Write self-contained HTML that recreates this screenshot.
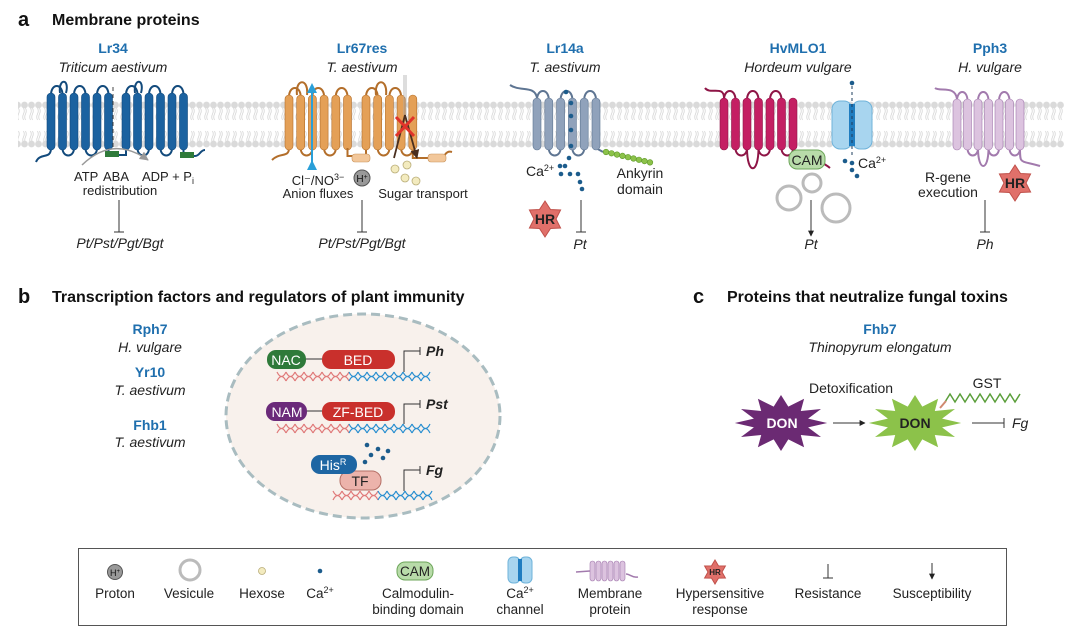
<!DOCTYPE html>
<html><head><meta charset="utf-8"><style>
html,body{margin:0;padding:0;background:#fff}
svg{display:block;font-family:"Liberation Sans","DejaVu Sans",sans-serif}
.t{font-size:14px;fill:#222}
.b{font-weight:bold}
.bl{fill:#1f6fae;font-weight:bold;font-size:14px}
.it{font-style:italic;font-size:14px;fill:#222}
.h{font-size:16px;font-weight:bold;fill:#111}
.lg{font-size:13.5px;fill:#222}
</style></head><body>
<svg id="s" width="1080" height="636" viewBox="0 0 1080 636" xmlns="http://www.w3.org/2000/svg">
<defs>
<pattern id="mem" x="0" y="101" width="7" height="60" patternUnits="userSpaceOnUse">
<path d="M2.5 107 q1.5 3 0 6 q-1.5 3 0 6 M4.5 107 q1.5 3 0 6 q-1.5 3 0 6 M2.5 130 q1.5 3 0 6 q-1.5 3 0 6 M4.5 130 q1.5 3 0 6 q-1.5 3 0 6" stroke="#d4d4d4" stroke-width="0.8" fill="none" transform="translate(0,-100)"/>
<circle cx="3.5" cy="4" r="3.4" fill="#dadada"/>
<circle cx="3.5" cy="43" r="3.4" fill="#dadada"/>
</pattern>
<marker id="ar" viewBox="0 0 10 10" refX="9" refY="5" markerWidth="6" markerHeight="6" orient="auto"><path d="M0 0L10 5L0 10z" fill="#222"/></marker>
<marker id="arg" viewBox="0 0 10 10" refX="9" refY="5" markerWidth="6" markerHeight="6" orient="auto"><path d="M0 0L10 5L0 10z" fill="#999"/></marker>
<marker id="arb" viewBox="0 0 10 10" refX="5" refY="5" markerWidth="5" markerHeight="5" orient="auto"><path d="M0 0L10 5L0 10z" fill="#2a9fd8"/></marker>
<marker id="ard" viewBox="0 0 10 10" refX="9" refY="5" markerWidth="5" markerHeight="5" orient="auto"><path d="M0 0L10 5L0 10z" fill="#4a2f1f"/></marker>
</defs>

<rect x="18" y="101" width="1046" height="47" fill="url(#mem)"/>

<g id="prot"></g>

<text x="18" y="26" class="h" style="font-size:20px">a</text>
<text x="52" y="25" class="h">Membrane proteins</text>
<text x="113" y="53" class="bl" text-anchor="middle">Lr34</text>
<text x="113" y="72" class="it" text-anchor="middle">Triticum aestivum</text>
<text x="362" y="53" class="bl" text-anchor="middle">Lr67res</text>
<text x="362" y="72" class="it" text-anchor="middle">T. aestivum</text>
<text x="565" y="53" class="bl" text-anchor="middle">Lr14a</text>
<text x="565" y="72" class="it" text-anchor="middle">T. aestivum</text>
<text x="798" y="53" class="bl" text-anchor="middle">HvMLO1</text>
<text x="798" y="72" class="it" text-anchor="middle">Hordeum vulgare</text>
<text x="990" y="53" class="bl" text-anchor="middle">Pph3</text>
<text x="990" y="72" class="it" text-anchor="middle">H. vulgare</text>

<line x1="113" y1="87" x2="113" y2="150" stroke="#444" stroke-dasharray="4,3"/>
<path d="M82 165 Q113 135 148 160" stroke="#999" stroke-width="1.5" fill="none" marker-end="url(#arg)"/>
<text x="74" y="181" class="t" style="font-size:13px">ATP</text>
<text x="103" y="181" class="t" style="font-size:13px">ABA</text>
<text x="142" y="181" class="t" style="font-size:13px">ADP + P<tspan font-size="9" dy="3">i</tspan></text>
<text x="120" y="195" class="t" text-anchor="middle" style="font-size:13px">redistribution</text>
<line x1="119" y1="200" x2="119" y2="232" stroke="#333"/><line x1="114" y1="232" x2="124" y2="232" stroke="#333"/>
<text x="120" y="248" class="it" text-anchor="middle">Pt/Pst/Pgt/Bgt</text>

<line x1="312" y1="165" x2="312" y2="88" stroke="#2a9fd8" stroke-width="2" marker-end="url(#arb)" marker-start="url(#arb)"/>
<line x1="404" y1="75" x2="404" y2="115" stroke="#aaa" stroke-width="0.8"/><line x1="406" y1="75" x2="406" y2="115" stroke="#aaa" stroke-width="0.8"/>
<path d="M405 115 L394 158 M405 115 L417 158" stroke="#4a2f1f" stroke-width="1.8" fill="none" marker-end="url(#ard)"/>
<path d="M396 117 L414 136 M414 117 L396 136" stroke="#e0332b" stroke-width="3"/>
<circle cx="362" cy="178" r="8" fill="#999" stroke="#555"/><text x="362" y="182" font-size="10" text-anchor="middle" fill="#111">H<tspan font-size="7" dy="-3">+</tspan></text>
<g fill="#f3ebbf" stroke="#b9ad79" stroke-width="0.8"><circle cx="395" cy="169" r="4"/><circle cx="407" cy="165" r="4"/><circle cx="405" cy="178" r="4"/><circle cx="416" cy="181" r="4"/></g>
<text x="318" y="185" class="t" text-anchor="middle" style="font-size:13px">Cl⁻/NO<tspan font-size="9" dy="-5">3−</tspan></text>
<text x="318" y="198" class="t" text-anchor="middle" style="font-size:13px">Anion fluxes</text>
<text x="423" y="198" class="t" text-anchor="middle" style="font-size:13px">Sugar transport</text>
<line x1="362" y1="200" x2="362" y2="232" stroke="#333"/><line x1="357" y1="232" x2="367" y2="232" stroke="#333"/>
<text x="362" y="248" class="it" text-anchor="middle">Pt/Pst/Pgt/Bgt</text>

<text x="526" y="176" class="t">Ca<tspan font-size="9" dy="-5">2+</tspan></text>
<g fill="#1c5c8c"><circle cx="566" cy="92" r="2.3"/><circle cx="571" cy="103" r="2.3"/><circle cx="571" cy="116" r="2.3"/><circle cx="571" cy="130" r="2.3"/><circle cx="571" cy="146" r="2.3"/><circle cx="569" cy="158" r="2.3"/><circle cx="565" cy="166" r="2.3"/><circle cx="560" cy="166" r="2.3"/><circle cx="561" cy="174" r="2.3"/><circle cx="570" cy="174" r="2.3"/><circle cx="578" cy="174" r="2.3"/><circle cx="580" cy="182" r="2.3"/><circle cx="582" cy="189" r="2.3"/></g>
<text x="640" y="178" class="t" text-anchor="middle">Ankyrin</text>
<text x="640" y="194" class="t" text-anchor="middle">domain</text>
<line x1="581" y1="200" x2="581" y2="232" stroke="#333"/><line x1="576" y1="232" x2="586" y2="232" stroke="#333"/>
<text x="580" y="249" class="it" text-anchor="middle">Pt</text>

<rect x="789" y="150" width="36" height="19" rx="8" fill="#b8dba9" stroke="#6da65a"/>
<text x="807" y="165" class="t" text-anchor="middle">CAM</text>
<g fill="none" stroke="#bbb" stroke-width="3"><circle cx="812" cy="183" r="9"/><circle cx="789" cy="198" r="12"/><circle cx="836" cy="208" r="14"/></g>
<line x1="811" y1="200" x2="811" y2="236" stroke="#333" marker-end="url(#ar)"/>
<text x="811" y="249" class="it" text-anchor="middle">Pt</text>
<rect x="832" y="101" width="20" height="48" rx="8" fill="#a8d5ef" stroke="#6fb3da"/>
<rect x="852" y="101" width="20" height="48" rx="8" fill="#a8d5ef" stroke="#6fb3da"/>
<rect x="849" y="104" width="6" height="42" fill="#1f7dc0"/>
<line x1="852" y1="86" x2="852" y2="158" stroke="#1c3c5c" stroke-dasharray="3,3"/>
<g fill="#1c5c8c"><circle cx="852" cy="83" r="2.3"/><circle cx="845" cy="161" r="2.3"/><circle cx="852" cy="163" r="2.3"/><circle cx="852" cy="170" r="2.3"/><circle cx="857" cy="176" r="2.3"/></g>
<text x="858" y="168" class="t">Ca<tspan font-size="9" dy="-5">2+</tspan></text>

<text x="948" y="182" class="t" text-anchor="middle">R-gene</text>
<text x="948" y="197" class="t" text-anchor="middle">execution</text>
<line x1="985" y1="200" x2="985" y2="232" stroke="#333"/><line x1="980" y1="232" x2="990" y2="232" stroke="#333"/>
<text x="985" y="249" class="it" text-anchor="middle">Ph</text>

<text x="18" y="303" class="h" style="font-size:20px">b</text>
<text x="52" y="302" class="h">Transcription factors and regulators of plant immunity</text>
<text x="150" y="334" class="bl" text-anchor="middle">Rph7</text>
<text x="150" y="352" class="it" text-anchor="middle">H. vulgare</text>
<text x="150" y="377" class="bl" text-anchor="middle">Yr10</text>
<text x="150" y="395" class="it" text-anchor="middle">T. aestivum</text>
<text x="150" y="430" class="bl" text-anchor="middle">Fhb1</text>
<text x="150" y="447" class="it" text-anchor="middle">T. aestivum</text>
<ellipse cx="363" cy="416" rx="137" ry="102" fill="#f8f1ec" stroke="#a9bcc0" stroke-width="3" stroke-dasharray="9,5"/>
<g id="dna"></g>
<line x1="305" y1="359" x2="323" y2="359" stroke="#333"/>
<rect x="267" y="350" width="39" height="19" rx="9" fill="#2f7a3a"/>
<text x="286" y="365" class="t" style="fill:#fff" text-anchor="middle">NAC</text>
<rect x="322" y="350" width="73" height="19" rx="9" fill="#c9302c"/>
<text x="358" y="365" class="t" style="fill:#fff" text-anchor="middle">BED</text>
<line x1="306" y1="411" x2="323" y2="411" stroke="#333"/>
<rect x="266" y="402" width="41" height="19" rx="9" fill="#6b2a7a"/>
<text x="287" y="417" class="t" style="fill:#fff" text-anchor="middle">NAM</text>
<rect x="322" y="402" width="73" height="19" rx="9" fill="#c9302c"/>
<text x="358" y="417" class="t" style="fill:#fff" text-anchor="middle">ZF-BED</text>
<rect x="340" y="471" width="41" height="19" rx="9" fill="#ecb3ab" stroke="#b56f66"/>
<text x="360" y="486" class="t" text-anchor="middle">TF</text>
<rect x="311" y="455" width="46" height="19" rx="9" fill="#1e66a3"/>
<text x="333" y="470" class="t" style="fill:#fff" text-anchor="middle">His<tspan font-size="9" dy="-5">R</tspan></text>
<g fill="#1c5c8c"><circle cx="367" cy="445" r="2.3"/><circle cx="378" cy="449" r="2.3"/><circle cx="388" cy="451" r="2.3"/><circle cx="371" cy="455" r="2.3"/><circle cx="383" cy="458" r="2.3"/><circle cx="365" cy="462" r="2.3"/></g>
<g stroke="#333" fill="none"><path d="M404 372 V351 H420"/><line x1="420" y1="347" x2="420" y2="355"/>
<path d="M404 424 V404 H420"/><line x1="420" y1="400" x2="420" y2="408"/>
<path d="M404 491 V470 H420"/><line x1="420" y1="466" x2="420" y2="474"/></g>
<text x="426" y="356" class="it b">Ph</text>
<text x="426" y="409" class="it b">Pst</text>
<text x="426" y="475" class="it b">Fg</text>

<text x="693" y="303" class="h" style="font-size:20px">c</text>
<text x="727" y="302" class="h">Proteins that neutralize fungal toxins</text>
<text x="880" y="334" class="bl" text-anchor="middle">Fhb7</text>
<text x="880" y="352" class="it" text-anchor="middle">Thinopyrum elongatum</text>
<text x="851" y="393" class="t" text-anchor="middle">Detoxification</text>
<text x="987" y="388" class="t" text-anchor="middle">GST</text>
<path d="M945 402 l5 -8 l5 8 l5 -8 l5 8 l5 -8 l5 8 l5 -8 l5 8 l5 -8 l5 8 l5 -8 l5 8 l5 -8 l5 8 l5 -8" stroke="#5a9e3a" stroke-width="1.5" fill="none"/>
<line x1="940" y1="408" x2="946" y2="401" stroke="#d08a70" stroke-width="2"/>
<g id="stars"></g>
<text x="782" y="428" class="t b" style="fill:#fff" text-anchor="middle">DON</text>
<text x="915" y="428" class="t b" text-anchor="middle">DON</text>
<line x1="833" y1="423" x2="865" y2="423" stroke="#333" marker-end="url(#ar)"/>
<line x1="972" y1="423" x2="1004" y2="423" stroke="#333"/><line x1="1004" y1="418" x2="1004" y2="428" stroke="#333"/>
<text x="1012" y="428" class="it">Fg</text>

<rect x="78.5" y="548.5" width="928" height="77" fill="#fff" stroke="#555"/>
<circle cx="115" cy="572" r="7.5" fill="#999" stroke="#555"/><text x="115" y="576" font-size="9" text-anchor="middle" fill="#111">H<tspan font-size="6" dy="-3">+</tspan></text>
<text x="115" y="598" class="lg" text-anchor="middle">Proton</text>
<circle cx="190" cy="570" r="10" fill="none" stroke="#bbb" stroke-width="3"/>
<text x="189" y="598" class="lg" text-anchor="middle">Vesicule</text>
<circle cx="262" cy="571" r="3.5" fill="#f3ebbf" stroke="#b9ad79" stroke-width="0.8"/>
<text x="262" y="598" class="lg" text-anchor="middle">Hexose</text>
<circle cx="320" cy="571" r="2.3" fill="#1c5c8c"/>
<text x="320" y="598" class="lg" text-anchor="middle">Ca<tspan font-size="9" dy="-5">2+</tspan></text>
<rect x="397" y="562" width="36" height="18" rx="8" fill="#b8dba9" stroke="#6da65a"/>
<text x="415" y="576" class="lg" text-anchor="middle">CAM</text>
<text x="418" y="598" class="lg" text-anchor="middle">Calmodulin-</text>
<text x="418" y="614" class="lg" text-anchor="middle">binding domain</text>
<rect x="508" y="557" width="12" height="26" rx="5" fill="#a8d5ef" stroke="#6fb3da"/>
<rect x="520" y="557" width="12" height="26" rx="5" fill="#a8d5ef" stroke="#6fb3da"/>
<rect x="518" y="559" width="4" height="22" fill="#1f7dc0"/>
<text x="520" y="598" class="lg" text-anchor="middle">Ca<tspan font-size="9" dy="-5">2+</tspan></text>
<text x="520" y="614" class="lg" text-anchor="middle">channel</text>
<g id="lgmem"></g>
<text x="610" y="598" class="lg" text-anchor="middle">Membrane</text>
<text x="610" y="614" class="lg" text-anchor="middle">protein</text>
<text x="715" y="575" font-size="8" font-weight="bold" text-anchor="middle" fill="#222" id="hrl">HR</text>
<text x="720" y="598" class="lg" text-anchor="middle">Hypersensitive</text>
<text x="720" y="614" class="lg" text-anchor="middle">response</text>
<line x1="828" y1="564" x2="828" y2="578" stroke="#333"/><line x1="823" y1="578" x2="833" y2="578" stroke="#333"/>
<text x="828" y="598" class="lg" text-anchor="middle">Resistance</text>
<line x1="932" y1="563" x2="932" y2="579" stroke="#333" marker-end="url(#ar)"/>
<text x="932" y="598" class="lg" text-anchor="middle">Susceptibility</text>
</svg>
<script>
var NS="http://www.w3.org/2000/svg";
function el(p,t,a){var e=document.createElementNS(NS,t);for(var k in a)e.setAttribute(k,a[k]);p.appendChild(e);return e;}
var P=document.getElementById('prot');
function helices(xs,fill,stroke,top,bot,path){
  el(P,'path',{d:path,stroke:stroke,'stroke-width':2,fill:'none'});
  xs.forEach(function(x){el(P,'rect',{x:x,y:top,width:8,height:bot-top,rx:4,fill:fill,stroke:stroke,'stroke-width':0.6});});
}
function loops(xs,top,bot){
  var d='';
  for(var i=0;i<xs.length-1;i++){
    var a=xs[i]+4,b=xs[i+1]+4;
    if(i%2==0){d+='M'+a+' '+(top+2)+' C'+a+' '+(top-10)+' '+b+' '+(top-10)+' '+b+' '+(top+2);}
    else{d+='M'+a+' '+(bot-2)+' C'+a+' '+(bot+8)+' '+b+' '+(bot+8)+' '+b+' '+(bot-2);}
  }
  return d;
}
function seq(x0,n,step){var r=[];for(var i=0;i<n;i++)r.push(x0+i*step);return r;}
var g1=seq(47,6,11.5),g2=seq(122,6,11.5);
helices(g1,'#1b62a0','#124a7c',93,150,loops(g1,93,150)+'M51 148 C51 160 40 152 36 162');
helices(g2,'#1b62a0','#124a7c',93,150,loops(g2,93,150)+'M'+(g1[5]+4)+' 148 L'+(g1[5]+4)+' 155 L'+(g2[0]+4)+' 155 L'+(g2[0]+4)+' 148 M'+(g2[5]+4)+' 148 L'+(g2[5]+4)+' 156 L195 156 C200 156 200 150 205 150');
el(P,'rect',{x:105,y:151,width:14,height:6,fill:'#2f7a3a'});
el(P,'rect',{x:180,y:152,width:14,height:6,fill:'#2f7a3a'});
el(P,'path',{d:'M60 93 C58 78 70 78 66 93',stroke:'#124a7c','stroke-width':2,fill:'none'});
el(P,'path',{d:'M135 93 C133 78 145 78 141 93',stroke:'#124a7c','stroke-width':2,fill:'none'});
var o1=seq(285,6,11.7),o2=seq(362,5,11.7);
helices(o1,'#e4a057','#b36e2a',95,150,loops(o1,95,150)+'M289 148 C289 158 280 152 272 160');
helices(o2,'#e4a057','#b36e2a',95,150,loops(o2,95,150)+'M'+(o1[5]+4)+' 148 L'+(o1[5]+4)+' 156 L'+(o2[0]+4)+' 156 L'+(o2[0]+4)+' 148 M'+(o2[4]+4)+' 148 L'+(o2[4]+4)+' 158 L440 158 C445 158 445 150 452 152');
el(P,'rect',{x:352,y:154,width:18,height:8,rx:3,fill:'#f2c79a',stroke:'#c8925a','stroke-width':0.6});
el(P,'rect',{x:428,y:154,width:18,height:8,rx:3,fill:'#f2c79a',stroke:'#c8925a','stroke-width':0.6});
el(P,'path',{d:'M297 95 C295 78 309 78 307 95 M376 95 C374 78 388 78 386 95',stroke:'#b36e2a','stroke-width':2,fill:'none'});
var l1=seq(533,6,11.8);
helices(l1,'#90a2bb','#5e7592',98,150,loops(l1,98,150)+'M537 98 C535 85 520 92 510 85 M'+(l1[5]+4)+' 148 L603 152');
for(var i=0;i<9;i++)el(P,'circle',{cx:606+i*5.5,cy:152+i*1.3,r:2.8,fill:'#8cc24a',stroke:'#5f9a2a','stroke-width':0.6});
var m1=seq(720,7,11.5);
helices(m1,'#c41f63','#8e1546',98,150,loops(m1,98,150)+'M724 98 C724 85 710 95 705 88 M'+(m1[6]+4)+' 148 C'+(m1[6]+4)+' 160 815 155 830 168 M'+(m1[2]+4)+' 148 C'+(m1[2]+4)+' 175 '+(m1[3]+4)+' 175 '+(m1[3]+4)+' 148');
var p1=seq(953,7,10.5);
helices(p1,'#dcc3df','#a27aad',99,150,loops(p1,99,150)+'M957 99 C955 85 940 92 935 88 M'+(p1[6]+4)+' 148 C'+(p1[6]+4)+' 165 1020 160 1040 166 M'+(p1[2]+4)+' 148 C'+(p1[2]+4)+' 172 '+(p1[3]+4)+' 172 '+(p1[3]+4)+' 148');
function star(par,cx,cy,n,ro,ri,fill,stroke,sx){sx=sx||1;var d='';for(var i=0;i<2*n;i++){var a=Math.PI*i/n-Math.PI/2,r=i%2?ri:ro;d+=(i?'L':'M')+(cx+r*Math.cos(a)*sx).toFixed(1)+' '+(cy+r*Math.sin(a)).toFixed(1);}el(par,'path',{d:d+'Z',fill:fill,stroke:stroke||'none'});}
star(P,545,219,6,18,11,'#e0706a','#c0504a');
star(P,1015,183,6,18,11,'#e0706a','#c0504a');
var S=document.getElementById('stars');
star(S,781,423,12,28,17,'#6b2a73',null,1.65);
star(S,915,423,12,28,17,'#8cc24a',null,1.65);
var T=document.getElementById('s');
[[545,224],[1015,188]].forEach(function(p){var t=el(T,'text',{x:p[0],y:p[1],'text-anchor':'middle','font-size':14,'font-weight':'bold',fill:'#222'});t.textContent='HR';});
var Lg=document.getElementById('lgmem');
star(Lg,715,572,6,12,7,'#e0706a','#c0504a');
var lx=seq(590,6,6);
lx.forEach(function(x){el(Lg,'rect',{x:x,y:561,width:5,height:20,rx:2.5,fill:'#dcc3df',stroke:'#a27aad','stroke-width':0.6});});
el(Lg,'path',{d:'M576 572 L590 571 M626 574 C630 574 632 578 638 577',stroke:'#a27aad','stroke-width':1.5,fill:'none'});
var D=document.getElementById('dna');
function dna(x0,x1,xs,y){var dr='',db='';for(var x=x0;x<x1;x+=9){var seg='M'+x+' '+y+' q4.5 -9 9 0 M'+x+' '+(y-9)+' q4.5 9 9 0 ';if(x<xs)dr+=seg;else db+=seg;}
el(D,'path',{d:dr,stroke:'#e07a7a','stroke-width':1.2,fill:'none'});el(D,'path',{d:db,stroke:'#2a8fd0','stroke-width':1.2,fill:'none'});}
dna(277,425,349,381);dna(277,425,349,433);dna(333,430,373,500);
</script>
</body></html>
